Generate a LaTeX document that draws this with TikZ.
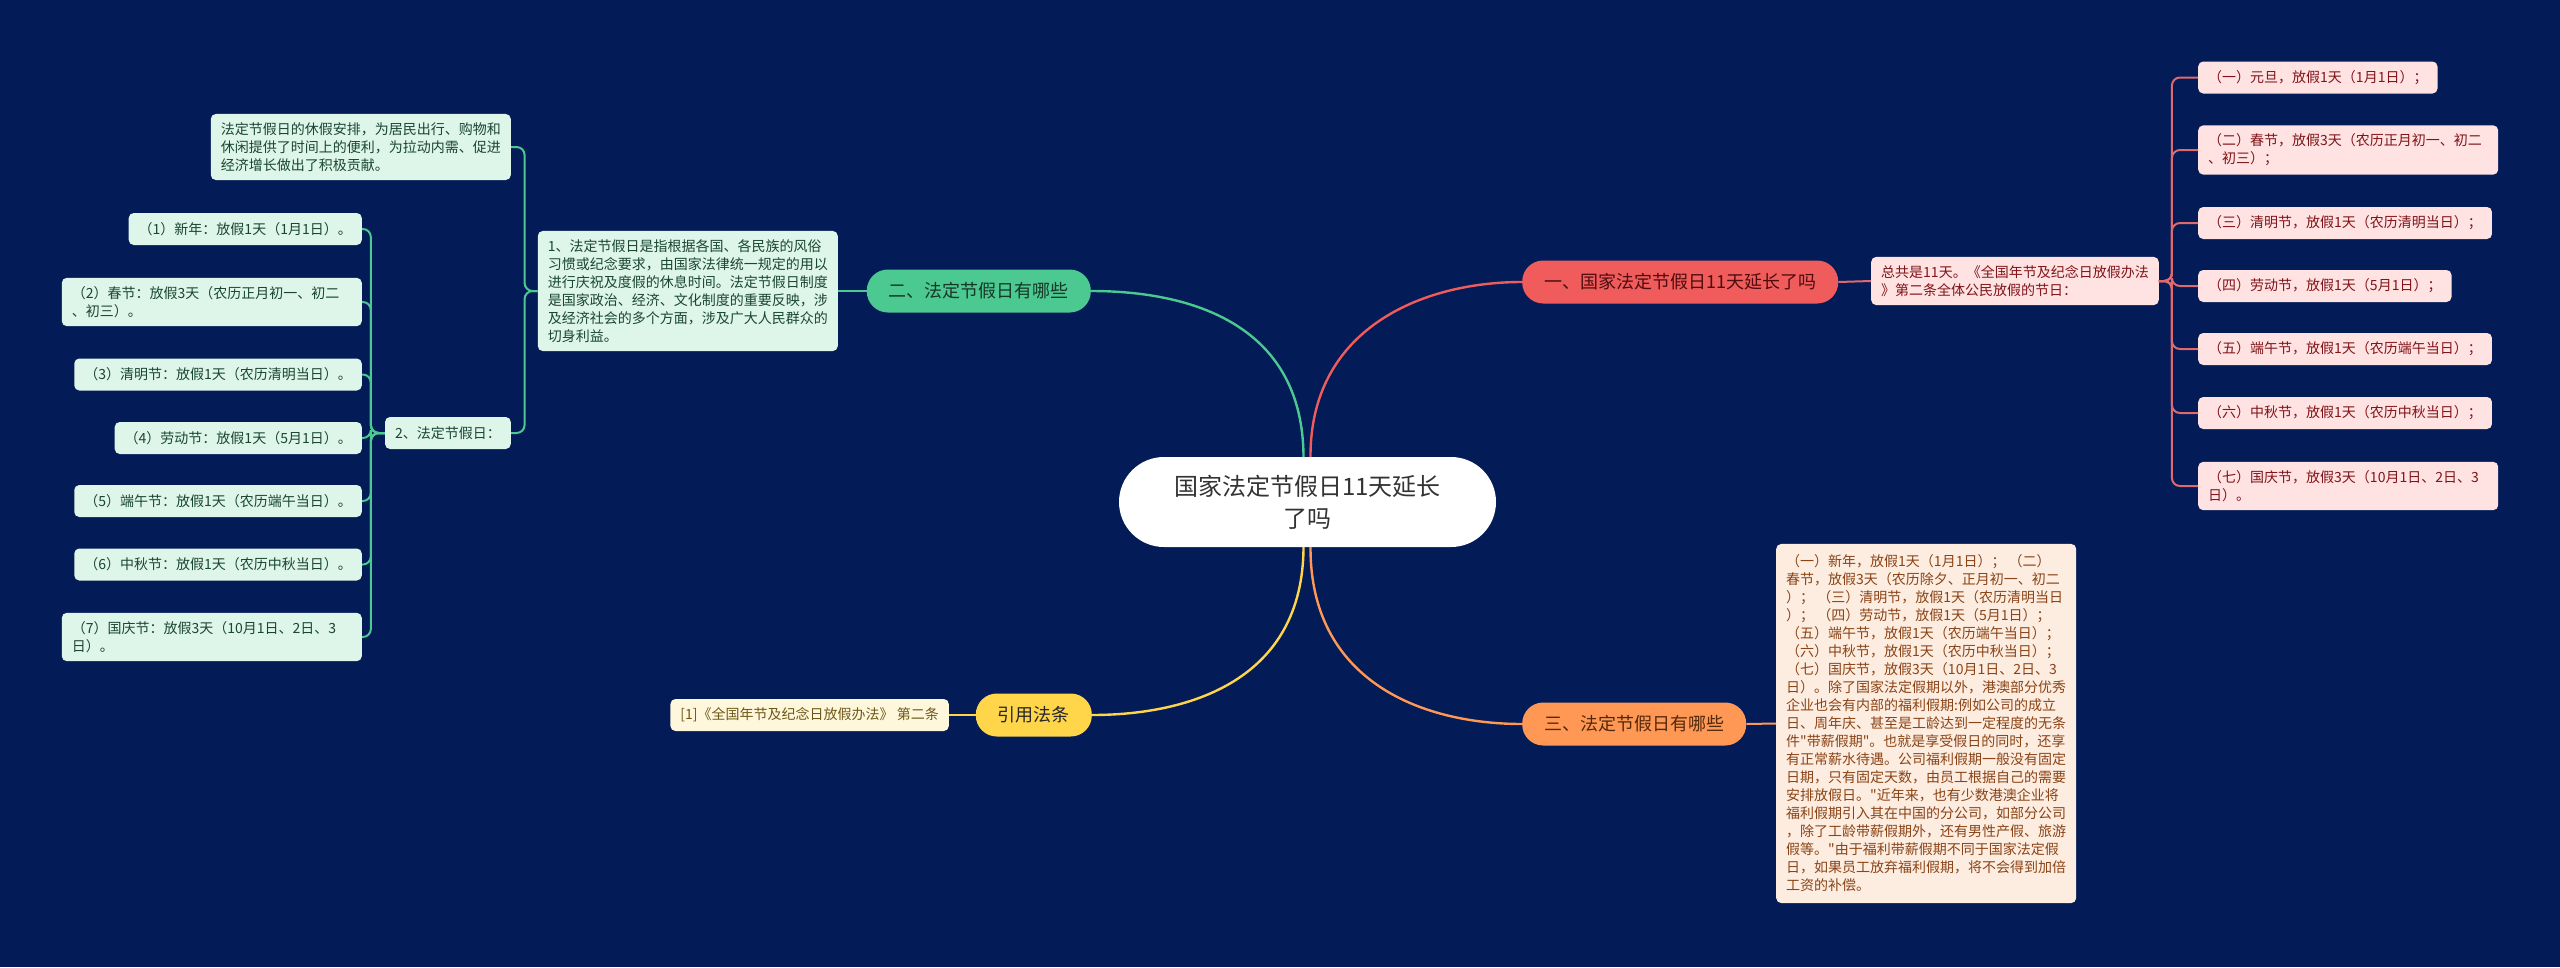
\documentclass[tikz,border=0pt]{standalone}
\usepackage{fontspec}
\setmainfont{Noto Sans CJK SC}[Ligatures=TeXOff]
\usepackage{xcolor}
\usepackage{tikz}
\usetikzlibrary{positioning, calc}
\definecolor{bgnavy}{RGB}{3,27,87}
\definecolor{gmain}{RGB}{76,200,145}
\definecolor{gfill}{RGB}{222,245,233}
\definecolor{gtext}{RGB}{26,70,50}
\definecolor{rmain}{RGB}{240,92,92}
\definecolor{rline}{RGB}{222,106,110}
\definecolor{rfill}{RGB}{255,226,226}
\definecolor{rtext}{RGB}{128,20,24}
\definecolor{omain}{RGB}{255,152,84}
\definecolor{ofill}{RGB}{253,236,224}
\definecolor{otext}{RGB}{138,68,22}
\definecolor{ymain}{RGB}{255,214,74}
\definecolor{yfill}{RGB}{255,247,220}
\definecolor{ytext}{RGB}{108,88,22}
\newcommand{\smallcjk}{\fontsize{14}{18}\selectfont}

\begin{document}
\begin{tikzpicture}[x=1pt, y=-1pt,
  root/.style={rectangle, rounded corners=45pt, fill=white, text=black!80,
               minimum width=377pt, minimum height=90pt, align=center,
               font=\fontsize{24}{32}\selectfont},
  topic/.style={rectangle, rounded corners=21pt, minimum height=43pt,
                inner xsep=22pt, font=\fontsize{18}{22}\selectfont},
  leaf/.style={rectangle, rounded corners=5pt, inner xsep=10pt, inner ysep=8.5pt,
               minimum height=32pt, align=left, font=\smallcjk},
  wide/.style={text width=280pt},
  gleaf/.style={leaf, fill=gfill, text=gtext},
  rleaf/.style={leaf, fill=rfill, text=rtext},
  oleaf/.style={leaf, fill=ofill, text=otext, inner ysep=11pt},
  yleaf/.style={leaf, fill=yfill, text=ytext},
  branch/.style={line width=2.4pt},
  twig/.style={line width=2pt, rounded corners=8pt}]

  \fill[bgnavy] (0,0) rectangle (2560,967);
  \useasboundingbox (0,0) rectangle (2560,967);

  % centre and main topics
  \node[root] (R) at (1307.5,502) {国家法定节假日11天延长\\了吗};
  \node[topic, fill=rmain, text=rtext!60!black, anchor=west] (T1) at (1522,282) {一、国家法定节假日11天延长了吗};
  \node[topic, fill=gmain, text=gtext!80!black, anchor=east] (T2) at (1091,291) {二、法定节假日有哪些};
  \node[topic, fill=omain, text=otext!60!black, anchor=west] (T3) at (1522,724) {三、法定节假日有哪些};
  \node[topic, fill=ymain, text=black!85, anchor=east] (T4) at (1092,715) {引用法条};

  \draw[branch, gmain] ($(R.north)+(-4,0)$) .. controls (1303,330) and (1200,291) .. (T2.east);
  \draw[branch, rmain] ($(R.north)+(3,0)$) .. controls (1310,330) and (1420,282) .. (T1.west);
  \draw[branch, ymain] ($(R.south)+(-4,0)$) .. controls (1303,680) and (1190,715) .. (T4.east);
  \draw[branch, omain] ($(R.south)+(3,0)$) .. controls (1310,680) and (1420,724) .. (T3.west);

  % red branch
  \node[rleaf, anchor=west] (Rd) at (1871,281) {总共是11天。《全国年节及纪念日放假办法\\》第二条全体公民放假的节日：};
  \node[rleaf, anchor=west] (Ra) at (2198,77.5) {（一）元旦，放假1天（1月1日）；};
  \node[rleaf, wide, anchor=west] (Rb) at (2198,150) {（二）春节，放假3天（农历正月初一、初二\\、初三）；};
  \node[rleaf, anchor=west] (Rc) at (2198,223) {（三）清明节，放假1天（农历清明当日）；};
  \node[rleaf, anchor=west] (Re) at (2198,286) {（四）劳动节，放假1天（5月1日）；};
  \node[rleaf, anchor=west] (Rf) at (2198,349) {（五）端午节，放假1天（农历端午当日）；};
  \node[rleaf, anchor=west] (Rg) at (2198,413) {（六）中秋节，放假1天（农历中秋当日）；};
  \node[rleaf, wide, anchor=west] (Rh) at (2198,486) {（七）国庆节，放假3天（10月1日、2日、3\\日）。};

  \draw[twig, rline] (T1.east) -- (Rd.west);
  \foreach \n in {Ra,Rb,Rc,Re,Rf,Rg,Rh}
    \draw[twig, rline] (Rd.east) -- ++(13,0) |- (\n.west);

  % green branch
  \node[gleaf, anchor=east] (G1) at (838,291) {1、法定节假日是指根据各国、各民族的风俗\\习惯或纪念要求，由国家法律统一规定的用以\\进行庆祝及度假的休息时间。法定节假日制度\\是国家政治、经济、文化制度的重要反映，涉\\及经济社会的多个方面，涉及广大人民群众的\\切身利益。};
  \node[gleaf, anchor=east] (G0) at (511,147) {法定节假日的休假安排，为居民出行、购物和\\休闲提供了时间上的便利，为拉动内需、促进\\经济增长做出了积极贡献。};
  \node[gleaf, anchor=east] (G2) at (511,433) {2、法定节假日：};
  \node[gleaf, anchor=east] (Ga) at (362,229) {（1）新年：放假1天（1月1日）。};
  \node[gleaf, wide, anchor=east] (Gb) at (362,302) {（2）春节：放假3天（农历正月初一、初二\\、初三）。};
  \node[gleaf, anchor=east] (Gc) at (362,374.5) {（3）清明节：放假1天（农历清明当日）。};
  \node[gleaf, anchor=east] (Ge) at (362,438) {（4）劳动节：放假1天（5月1日）。};
  \node[gleaf, anchor=east] (Gf) at (362,501) {（5）端午节：放假1天（农历端午当日）。};
  \node[gleaf, anchor=east] (Gg) at (362,564.5) {（6）中秋节：放假1天（农历中秋当日）。};
  \node[gleaf, wide, anchor=east] (Gh) at (362,637) {（7）国庆节：放假3天（10月1日、2日、3\\日）。};

  \draw[twig, gmain] (T2.west) -- (G1.east);
  \foreach \n in {G0,G2}
    \draw[twig, gmain] (G1.west) -- ++(-13,0) |- (\n.east);
  \foreach \n in {Ga,Gb,Gc,Ge,Gf,Gg,Gh}
    \draw[twig, gmain] (G2.west) -- ++(-14,0) |- (\n.east);

  % orange branch
  \node[oleaf, anchor=west] (O1) at (1776,723.5) {（一）新年，放假1天（1月1日）； （二）\\春节，放假3天（农历除夕、正月初一、初二\\）； （三）清明节，放假1天（农历清明当日\\）； （四）劳动节，放假1天（5月1日）；\\（五）端午节，放假1天（农历端午当日）；\\（六）中秋节，放假1天（农历中秋当日）；\\（七）国庆节，放假3天（10月1日、2日、3\\日）。除了国家法定假期以外，港澳部分优秀\\企业也会有内部的福利假期:例如公司的成立\\日、周年庆、甚至是工龄达到一定程度的无条\\件"带薪假期"。也就是享受假日的同时，还享\\有正常薪水待遇。公司福利假期一般没有固定\\日期，只有固定天数，由员工根据自己的需要\\安排放假日。"近年来，也有少数港澳企业将\\福利假期引入其在中国的分公司，如部分公司\\，除了工龄带薪假期外，还有男性产假、旅游\\假等。"由于福利带薪假期不同于国家法定假\\日，如果员工放弃福利假期，将不会得到加倍\\工资的补偿。};
  \draw[twig, omain] (T3.east) -- (O1.west);

  % yellow branch
  \node[yleaf, anchor=east] (Y1) at (949,715) {[1]《全国年节及纪念日放假办法》 第二条};
  \draw[twig, ymain] (T4.west) -- (Y1.east);
\end{tikzpicture}
\end{document}
